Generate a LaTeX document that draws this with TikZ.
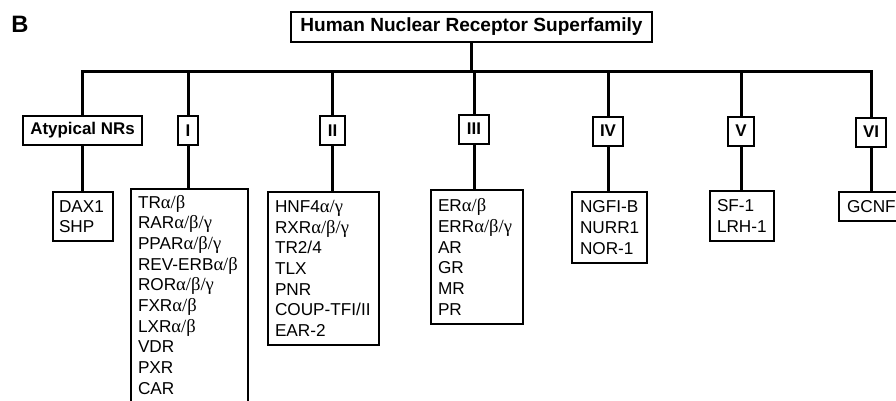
\documentclass[tikz,border=0pt]{standalone}
\usepackage{fontspec}
\setmainfont{Liberation Sans}
\newfontfamily\grk[Scale=1.08]{Liberation Serif}
\newcommand{\gk}[1]{{\grk #1}}
\AtBeginDocument{\hyphenpenalty=10000 \exhyphenpenalty=10000 \parindent=0pt }
\begin{document}
\begin{tikzpicture}[x=0.75pt,y=-0.75pt,
  conn/.style={line width=2.25pt, line join=miter},
  l2box/.style={draw, line width=1.5pt, fill=white,
    font=\bfseries\fontsize{12.7}{15}\selectfont,
    inner xsep=5.6pt, inner ysep=0pt, minimum height=21.75pt},
  listbox/.style={draw, line width=1.5pt, fill=white, align=left, anchor=north west,
    font=\fontsize{12.9}{15.5}\selectfont,
    inner ysep=3pt}
]
\path[use as bounding box] (0,0) rectangle (896,400);
\clip (0,0) rectangle (896,400);

\node[anchor=base west, inner sep=0pt, font=\bfseries\fontsize{17.8}{20}\selectfont] (lblB) at (11,32) {B};

\node[draw, line width=1.5pt, font=\bfseries\fontsize{14.3}{16}\selectfont,
  minimum width=270.75pt, minimum height=22.5pt, inner sep=0pt] (title) at (471.5,27)
  {Human Nuclear Receptor Superfamily};

\coordinate (bar) at (0,71);

% level 2
\node[l2box] (atyp) at (82.5,130.5) {Atypical NRs};
\node[l2box] (c1) at (188,130.5) {I};
\node[l2box] (c2) at (332.5,130.5) {II};
\node[l2box] (c3) at (474,129) {III};
\node[l2box] (c4) at (608,131) {IV};
\node[l2box] (c5) at (741,131) {V};
\node[l2box] (c6) at (871,132) {VI};

% level 3
\node[listbox, text width=36pt, inner xsep=4.5pt, minimum height=36.75pt] (l0) at (52,191)
  {DAX1\\SHP};
\node[listbox, text width=77.25pt, inner xsep=5.25pt, inner ysep=4.5pt, text depth=200pt] (l1) at (130,188)
  {TR\gk{α/β}\\RAR\gk{α/β/γ}\\PPAR\gk{α/β/γ}\\REV-ERB\gk{α/β}\\ROR\gk{α/β/γ}\\FXR\gk{α/β}\\LXR\gk{α/β}\\VDR\\PXR\\CAR};
\node[listbox, text width=72.75pt, inner xsep=5.25pt, minimum height=114.75pt] (l2) at (267,191)
  {HNF4\gk{α/γ}\\RXR\gk{α/β/γ}\\TR2/4\\TLX\\PNR\\COUP-TFI/II\\EAR-2};
\node[listbox, text width=58.5pt, inner xsep=5.25pt, minimum height=100.5pt] (l3) at (430,189)
  {ER\gk{α/β}\\ERR\gk{α/β/γ}\\AR\\GR\\MR\\PR};
\node[listbox, text width=44.25pt, inner xsep=6pt, minimum height=53.25pt] (l4) at (571,191)
  {NGFI-B\\NURR1\\NOR-1};
\node[listbox, text width=37.5pt, inner xsep=5.25pt, minimum height=37.5pt] (l5) at (709,190)
  {SF-1\\LRH-1};
\node[listbox, text width=36pt, inner xsep=6pt, minimum height=21.75pt] (l6) at (838,191)
  {GCNF};

% connectors
\draw[conn] (title.south) -- (title.south |- bar);
\draw[conn] (atyp.north) -- (atyp.north |- bar) -- (c6.north |- bar) -- (c6.north);
\foreach \n in {c1,c2,c3,c4,c5}{
  \draw[conn] (\n.north) -- (\n.north |- bar);
}
\draw[conn] (atyp.south) -- (atyp.south |- l0.north);
\draw[conn] (c1.south) -- (c1.south |- l1.north);
\draw[conn] (c2.south) -- (c2.south |- l2.north);
\draw[conn] (c3.south) -- (c3.south |- l3.north);
\draw[conn] (c4.south) -- (c4.south |- l4.north);
\draw[conn] (c5.south) -- (c5.south |- l5.north);
\draw[conn] (c6.south) -- (c6.south |- l6.north);
\end{tikzpicture}
\end{document}
